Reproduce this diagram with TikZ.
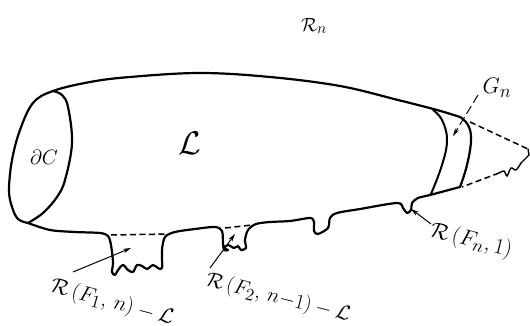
\documentclass[tikz,border=0pt]{standalone}
\usepackage{amsmath}
\usetikzlibrary{arrows.meta}
\tikzset{
  outline/.style={line width=2.2pt,line cap=round,line join=round},
  thinl/.style={line width=1.4pt,line cap=round},
  dash1/.style={line width=1.5pt,dash pattern=on 6pt off 3.5pt},
  lead/.style={line width=1pt,-{Stealth[length=8pt,width=4.5pt]}},
  lab/.style={font=\fontsize{19}{21}\selectfont,inner sep=0pt}
}
\begin{document}
\begin{tikzpicture}[x=1pt,y=-1pt]
\useasboundingbox (0,0) rectangle (530,326);
% body: top
\draw[outline] plot[smooth,tension=0.6] coordinates {(28,223) (18,219) (12,207) (9,190) (12,160) (20,130) (33,103) (53,91) (90,82) (130,77) (200,73) (270,77) (340,86) (398,100) (437,110) (460,117)};
\draw[outline] plot[smooth,tension=0.7] coordinates {(460,117) (468,125) (471,140) (467,165) (460,187)};
% ellipse right side and lower outline
\draw[outline] plot[smooth,tension=0.6] coordinates {(53,91) (62,95) (68,107) (72,143) (65,180) (57,197) (43,213) (28,223)};
\draw[outline] plot[smooth,tension=0.5] coordinates {(28,223) (50,230) (75,232) (100,233) (108,236) (111,245) (113,262) (112,272) (115,275) (118,270) (123,265) (128,270) (133,272) (137,265) (142,266) (147,269) (153,265) (158,268) (162,268) (162,250) (165,237) (175,232) (195,229) (215,227) (222,231) (223,243) (224,250) (228,250) (224,248) (228,245) (234,248) (238,246) (241,250) (246,248) (245,240) (248,230) (256,224) (270,222) (290,221) (310,218) (314,222) (314,231) (318,234) (328,228) (330,218) (337,213) (360,209) (397,203) (403,208) (407,213) (411,210) (412,203) (418,198) (430,195) (460,187)};
% inner band
\draw[outline,line width=2pt] plot[smooth,tension=0.7] coordinates {(433,110) (442,120) (447,140) (442,165) (431,194)};
% dashed
\draw[dash1] (111,235) -- (168,234);
\draw[dash1] (225,228) -- (252,225);
\draw[dash1] (470,122) -- (528,149);
\draw[thinl] (528,149) -- (529,155) -- (521,163);
\draw[thinl] plot[smooth] coordinates {(521,163) (516,170) (511,168) (507,176) (504,171) (499,173)};
\draw[dash1] (499,173) -- (462,187);
% leader coordinates
\coordinate (a1) at (73,272); \coordinate (a1t) at (131,248);
\coordinate (a2) at (210,268); \coordinate (a2t) at (235,234);
\coordinate (a3) at (431,224); \coordinate (a3t) at (411,209);
\coordinate (a4) at (478,95); \coordinate (a4t) at (453,136);
\draw[lead] (a1) -- (a1t);
\draw[lead] (a2) -- (a2t);
\draw[lead] (a3) -- (a3t);
\draw[lead,dash pattern=on 9pt off 4pt] (a4) -- (a4t);
% labels
\node[lab,scale=1.1] (rn) at (314,26) {$\mathcal{R}_{n}$};
\node[lab,scale=1.9] (L) at (190,143) {$\mathcal{L}$};
\node[lab,scale=1.2] (dc) at (44,157) {$\partial C$};
\node[lab,scale=1.3] (gn) at (497,88) {$G_{n}$};
\node[lab,rotate=-15,scale=1.24] (l1) at (112,303) {$\mathcal{R}\,(F_{1},\,n)-\mathcal{L}$};
\node[lab,rotate=-14,scale=1.2] (l2) at (278,298) {$\mathcal{R}\,(F_{2},\,n{-}1)-\mathcal{L}$};
\node[lab,rotate=-14,scale=1.28] (l3) at (471,241) {$\mathcal{R}\,(F_{n},1)$};
\end{tikzpicture}
\end{document}
